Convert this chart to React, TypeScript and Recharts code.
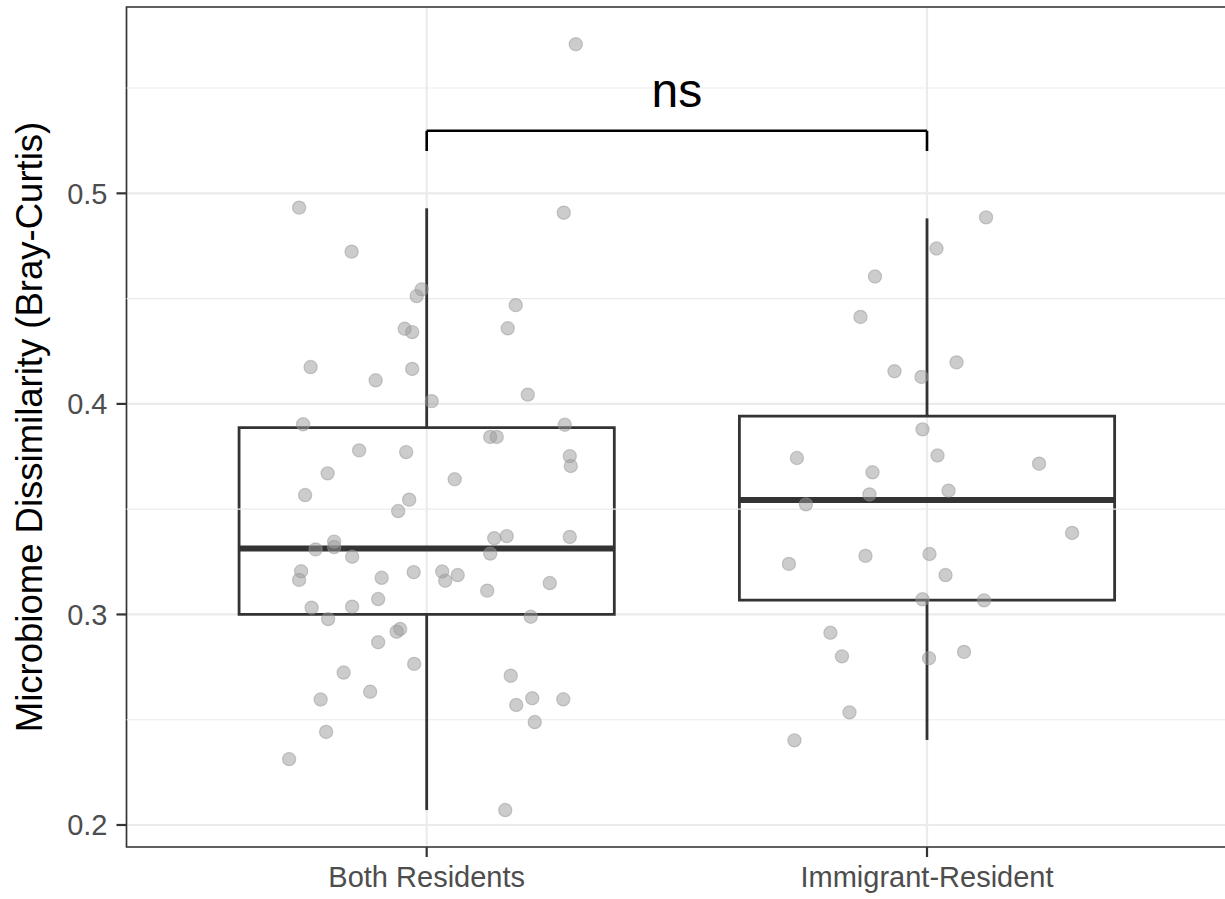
import {
  ScatterChart,
  Scatter,
  XAxis,
  YAxis,
  CartesianGrid,
  ReferenceArea,
  ReferenceLine,
  ReferenceDot,
} from "recharts";

const FONT = "'Liberation Sans', Arial, Helvetica, sans-serif";
const INK = "#333333";

const groups = ["Both Residents", "Immigrant-Resident"];

// box statistics per group
const lowerWhisker = [0.2071, 0.2404];
const q1 = [0.3, 0.3068];
const median = [0.3313, 0.3543];
const q3 = [0.3887, 0.3942];
const upperWhisker = [0.4929, 0.4881];

const yTicks = [0.2, 0.3, 0.4, 0.5];
const yMinor = [0.25, 0.35, 0.45, 0.55];

// jittered x position (group index + offset) and dissimilarity of each pair
const bothJitter = [
  0.745, 0.85, 1.274, 1.298, 0.99, 0.98, 0.956, 0.971, 1.178, 1.162,
  0.768, 0.898, 0.971, 1.202, 1.01, 0.753, 1.276, 1.127, 1.14, 1.286,
  1.288, 0.865, 0.959, 0.802, 1.056, 0.757, 0.965, 0.943, 1.135, 1.16,
  1.286, 0.815, 0.815, 0.778, 0.851, 1.127, 0.749, 0.745, 0.91, 0.974,
  1.031, 1.037, 1.062, 1.121, 1.246, 0.903, 0.77, 0.851, 0.803, 1.208,
  0.947, 0.94, 0.903, 0.975, 0.834, 0.887, 0.788, 1.168, 1.211, 1.179,
  1.273, 1.216, 0.799, 0.725, 1.157,
];
const bothValues = [
  0.4932, 0.4723, 0.4908, 0.5708, 0.4544, 0.4512, 0.4357, 0.4341, 0.4469, 0.4359,
  0.4175, 0.4112, 0.4166, 0.4044, 0.4013, 0.3903, 0.3901, 0.3843, 0.3843, 0.3752,
  0.3705, 0.3779, 0.3771, 0.367, 0.3642, 0.3567, 0.3545, 0.3491, 0.3362, 0.3372,
  0.3368, 0.3346, 0.332, 0.3309, 0.3274, 0.3289, 0.3205, 0.3164, 0.3174, 0.3201,
  0.3204, 0.316, 0.3187, 0.3113, 0.3149, 0.3073, 0.3032, 0.3037, 0.2978, 0.2989,
  0.2931, 0.2918, 0.2868, 0.2765, 0.2724, 0.2633, 0.2596, 0.2709, 0.2602, 0.257,
  0.2597, 0.2489, 0.2442, 0.2313, 0.2071,
];
const immJitter = [
  2.118, 2.019, 1.896, 1.867, 2.059, 1.935, 1.989, 1.991, 1.74, 1.891,
  2.021, 2.224, 1.885, 1.758, 2.043, 2.29, 1.724, 1.877, 2.005, 2.037,
  1.991, 2.114, 1.807, 1.83, 2.004, 2.074, 1.845, 1.735,
];
const immValues = [
  0.4886, 0.4738, 0.4605, 0.4413, 0.4197, 0.4155, 0.4128, 0.3879, 0.3743, 0.3675,
  0.3755, 0.3716, 0.357, 0.3523, 0.3588, 0.3387, 0.324, 0.3278, 0.3287, 0.3187,
  0.3072, 0.3067, 0.2913, 0.2801, 0.2792, 0.2822, 0.2535, 0.2402,
];

const sigLabel = "ns";
const bracketY = 0.5297;
const bracketTip = 0.5201;
const sigTextY = 0.5408;

const X_DOMAIN: [number, number] = [0.4, 2.6];
const Y_DOMAIN: [number, number] = [0.18955, 0.5885];
const BOX_HALF = 0.375;

const bothData = bothJitter.map((x, i) => ({ x, y: bothValues[i] }));
const immData = immJitter.map((x, i) => ({ x, y: immValues[i] }));

const Point = (props: any) => (
  <circle
    cx={props.cx}
    cy={props.cy}
    r={6.6}
    fill="#999999"
    fillOpacity={0.5}
    stroke="#999999"
    strokeOpacity={0.5}
    strokeWidth={1.2}
  />
);

const YTitle = (props: any) => {
  const { x, y, height } = props.viewBox;
  const cx = x + 22.5;
  const cy = y + height / 2;
  return (
    <text
      x={cx}
      y={cy}
      transform={`rotate(-90 ${cx} ${cy})`}
      textAnchor="middle"
      dominantBaseline="central"
      fontFamily={FONT}
      fontSize={36.5}
      fill="#000000"
    >
      Microbiome Dissimilarity (Bray-Curtis)
    </text>
  );
};

const SigText = (props: any) => {
  const { x, y, width, height } = props.viewBox;
  return (
    <text
      x={x + width / 2}
      y={y + height / 2}
      textAnchor="middle"
      fontFamily={FONT}
      fontSize={48}
      fill="#000000"
    >
      {sigLabel}
    </text>
  );
};

export default function App() {
  const tickStyle = { fill: "#4D4D4D", fontSize: 29, fontFamily: FONT };
  return (
    <div
      style={{
        position: "absolute",
        left: 0,
        top: 0,
        width: 1225,
        height: 899,
        overflow: "hidden",
        background: "#ffffff",
      }}
    >
      <ScatterChart
        width={1240}
        height={899}
        margin={{ top: 7, right: 12.8, left: 6.5, bottom: 0 }}
      >
        <CartesianGrid stroke="#EBEBEB" strokeWidth={2.2} />
        {yMinor.map((v) => (
          <ReferenceLine key={v} y={v} stroke="#EBEBEB" strokeWidth={1.1} />
        ))}
        <XAxis
          type="number"
          dataKey="x"
          domain={X_DOMAIN}
          ticks={[1, 2]}
          allowDataOverflow
          tickFormatter={(v: number) => groups[Math.round(v) - 1]}
          height={52}
          axisLine={false}
          tickSize={10}
          tickMargin={9}
          tickLine={{ stroke: INK, strokeWidth: 2.2 }}
          tick={tickStyle}
        />
        <YAxis
          type="number"
          dataKey="y"
          domain={Y_DOMAIN}
          ticks={yTicks}
          allowDataOverflow
          width={120}
          axisLine={false}
          tickSize={10}
          tickMargin={9}
          tickLine={{ stroke: INK, strokeWidth: 2.2 }}
          tick={tickStyle}
          tickFormatter={(v: number) => v.toFixed(1)}
          label={YTitle}
        />
        <Scatter data={bothData} shape={Point} isAnimationActive={false} />
        <Scatter data={immData} shape={Point} isAnimationActive={false} />
        {groups.map((g, i) => {
          const c = i + 1;
          return [
            <ReferenceLine
              key={`${g}-lo`}
              segment={[
                { x: c, y: lowerWhisker[i] },
                { x: c, y: q1[i] },
              ]}
              stroke={INK}
              strokeWidth={2.8}
            />,
            <ReferenceLine
              key={`${g}-hi`}
              segment={[
                { x: c, y: q3[i] },
                { x: c, y: upperWhisker[i] },
              ]}
              stroke={INK}
              strokeWidth={2.8}
            />,
            <ReferenceArea
              key={`${g}-box`}
              x1={c - BOX_HALF}
              x2={c + BOX_HALF}
              y1={q1[i]}
              y2={q3[i]}
              fill="none"
              fillOpacity={0}
              stroke={INK}
              strokeWidth={2.8}
              strokeOpacity={1}
            />,
            <ReferenceLine
              key={`${g}-med`}
              segment={[
                { x: c - BOX_HALF, y: median[i] },
                { x: c + BOX_HALF, y: median[i] },
              ]}
              stroke={INK}
              strokeWidth={6}
            />,
          ];
        })}
        <ReferenceLine
          segment={[
            { x: 1, y: bracketTip },
            { x: 1, y: bracketY },
          ]}
          stroke="#000000"
          strokeWidth={2.6}
        />
        <ReferenceLine
          segment={[
            { x: 1, y: bracketY },
            { x: 2, y: bracketY },
          ]}
          stroke="#000000"
          strokeWidth={2.6}
        />
        <ReferenceLine
          segment={[
            { x: 2, y: bracketY },
            { x: 2, y: bracketTip },
          ]}
          stroke="#000000"
          strokeWidth={2.6}
        />
        <ReferenceDot
          x={1.5}
          y={sigTextY}
          r={0}
          fill="none"
          stroke="none"
          label={SigText}
        />
        <ReferenceArea
          x1={X_DOMAIN[0]}
          x2={X_DOMAIN[1]}
          y1={Y_DOMAIN[0]}
          y2={Y_DOMAIN[1]}
          fill="none"
          fillOpacity={0}
          stroke={INK}
          strokeWidth={1.6}
          strokeOpacity={1}
        />
      </ScatterChart>
    </div>
  );
}
